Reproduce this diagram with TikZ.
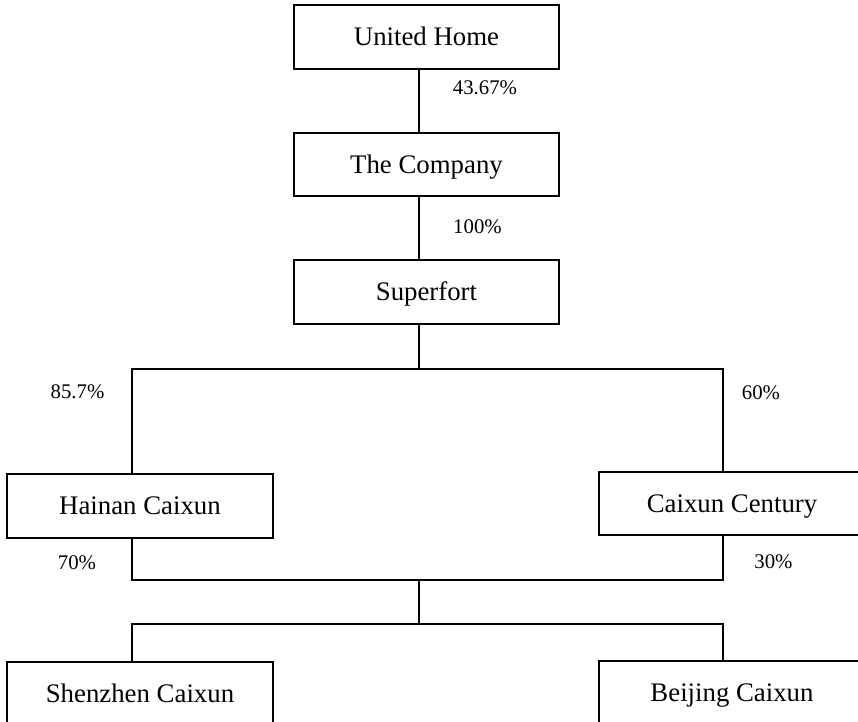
\documentclass[tikz,border=0pt]{standalone}
\usepackage{fontspec}
\setmainfont{Liberation Serif}
\begin{document}
\begin{tikzpicture}[x=0.5pt,y=-0.5pt,
  box/.style={draw, line width=0.9pt, rectangle, inner sep=0pt, outer sep=0pt,
    text height=8.7pt, text depth=0pt,
    minimum width=132.5pt, minimum height=32pt, font=\fontsize{13.4}{15}\selectfont},
  pct/.style={inner sep=0pt, text height=7pt, text depth=0pt, font=\fontsize{10.4}{12}\selectfont},
  conn/.style={line width=0.9pt}]
\useasboundingbox (0,0) rectangle (858,722);
\clip (0,0) rectangle (858,722);
\fill[white] (0,0) rectangle (858,722);
\node[box] (UH) at (426.5,37) {United Home};
\node[box, minimum height=31.5pt] (TC) at (426.5,164.5) {The Company};
\node[box] (SF) at (426.5,292) {Superfort};
\node[box, minimum width=133pt] (HC) at (140,506) {Hainan Caixun};
\node[box, minimum width=133pt, minimum height=31.5pt] (CC) at (732,503.5) {Caixun Century};
\node[box, minimum width=133pt] (SZ) at (140,694) {Shenzhen Caixun};
\node[box, minimum width=133pt] (BJ) at (732,693) {Beijing Caixun};
\coordinate (j1) at (419,369);
\coordinate (j2) at (419,580);
\coordinate (j3) at (419,624);
\coordinate (L) at (132,0);
\coordinate (R) at (723,0);
\draw[conn] (UH.south -| j1) -- (TC.north -| j1);
\draw[conn] (TC.south -| j1) -- (SF.north -| j1);
\draw[conn] (SF.south -| j1) -- (j1);
\draw[conn] (L |- HC.north) -- (L |- j1) -- (R |- j1) -- (R |- CC.north);
\draw[conn] (L |- HC.south) -- (L |- j2) -- (R |- j2) -- (R |- CC.south);
\draw[conn] (j2) -- (j3);
\draw[conn] (L |- SZ.north) -- (L |- j3) -- (R |- j3) -- (R |- BJ.north);
\node[pct] (p1) at (485,88) {43.67\%};
\node[pct] (p2) at (477.5,227) {100\%};
\node[pct] (p3) at (77.5,391) {85.7\%};
\node[pct] (p4) at (761,393) {60\%};
\node[pct] (p5) at (77,562) {70\%};
\node[pct] (p6) at (773.5,561) {30\%};
\end{tikzpicture}
\end{document}
